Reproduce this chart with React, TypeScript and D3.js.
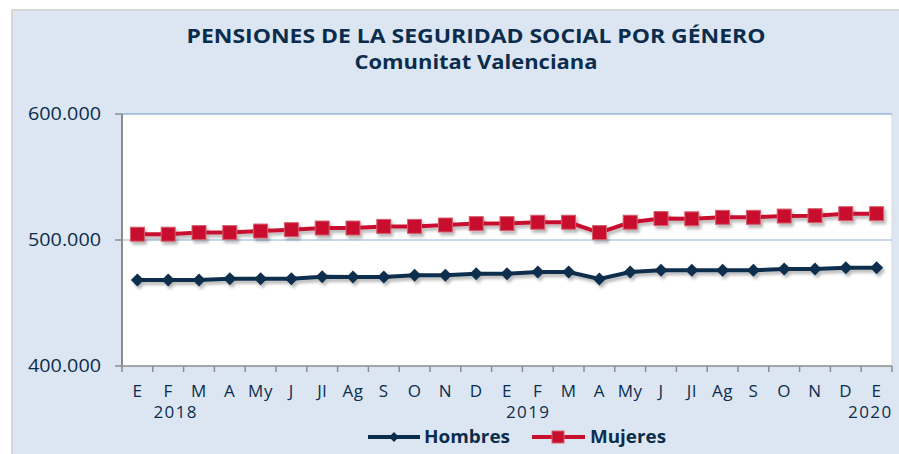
import React from "react";
import * as d3 from "d3";

const months = ["E","F","M","A","My","J","Jl","Ag","S","O","N","D","E","F","M","A","My","J","Jl","Ag","S","O","N","D","E"];
const hombres = [468300,468300,468300,469300,469300,469300,470900,470700,470700,472000,472000,473300,473300,474600,474600,469000,474600,476000,476000,476000,476000,477000,477000,478000,478000];
const mujeres = [504600,504600,505900,505900,507100,508200,509500,509500,510800,510800,511900,513000,513000,514100,514100,505900,514100,517000,516800,518000,518000,519000,519300,520900,520900];
const yTicks = [400000, 500000, 600000];
const yearLabels = [
  { label: "2018", index: 0, anchor: "start", dx: 16 },
  { label: "2019", index: 12, anchor: "start", dx: -1 },
  { label: "2020", index: 24, anchor: "end", dx: 16 },
];

const W = 899, H = 454;
const navy = "#0b2d4d";
const red = "#c8102e";
const font = "'Open Sans', sans-serif";

export default function App() {
  const left = 122, right = 892, top = 114, bottom = 366;
  const x = d3.scaleBand<number>().domain(d3.range(months.length)).range([left, right]);
  const cx = (i: number) => (x(i) as number) + x.bandwidth() / 2;
  const y = d3.scaleLinear().domain([400000, 600000]).range([bottom, top]);
  const line = d3.line<number>().x((_, i) => cx(i)).y(d => y(d));
  const fmt = (v: number) => d3.format(",")(v).replace(/,/g, ".");
  const diamond = (px: number, py: number, r = 6.5) => `M${px},${py - r}L${px + r},${py}L${px},${py + r}L${px - r},${py}Z`;

  return (
    <svg width={W} height={H} style={{ position: "absolute", left: 0, top: 0 }} fontFamily={font}>
      <defs>
        <filter id="sh" x="-5%" y="-50%" width="110%" height="200%">
          <feDropShadow dx="2" dy="3" stdDeviation="1.6" floodColor="#000" floodOpacity="0.28" />
        </filter>
      </defs>
      <rect x={0} y={0} width={W} height={H} fill="#fff" />
      <rect x={12} y={10} width={W} height={H} fill="#dce6f2" stroke="#d6d6d6" strokeWidth={2} />
      <text x={476} y={43} textAnchor="middle" fontSize={19} fontWeight="bold" fill={navy} textLength={579} lengthAdjust="spacingAndGlyphs">PENSIONES DE LA SEGURIDAD SOCIAL POR GÉNERO</text>
      <text x={476} y={69} textAnchor="middle" fontSize={19} fontWeight="bold" fill={navy} textLength={243} lengthAdjust="spacingAndGlyphs">Comunitat Valenciana</text>

      <rect x={left} y={top} width={right - left} height={bottom - top} fill="#fff" />
      <line x1={right} x2={right} y1={top} y2={bottom} stroke="#d9d9d9" strokeWidth={1} />
      {yTicks.filter(t => t > 400000).map(t => (
        <line key={t} x1={left} x2={right} y1={y(t)} y2={y(t)} stroke="#95b3d7" strokeWidth={t === 600000 ? 1.5 : 1} />
      ))}
      {yTicks.map(t => (
        <g key={"yt" + t}>
          <line x1={115} x2={left} y1={y(t)} y2={y(t)} stroke="#8c8c8c" strokeWidth={1.5} />
          <text x={101} y={y(t) + 6} textAnchor="end" fontSize={17.5} fill={navy} textLength={73} lengthAdjust="spacingAndGlyphs">{fmt(t)}</text>
        </g>
      ))}
      <line x1={left} x2={left} y1={top} y2={bottom + 1} stroke="#8c8c8c" strokeWidth={2} />
      <line x1={left} x2={right} y1={bottom} y2={bottom} stroke="#8c8c8c" strokeWidth={1.5} />
      {d3.range(months.length + 1).map(i => {
        const tx = i < months.length ? (x(i) as number) : right;
        return <line key={"xt" + i} x1={tx} x2={tx} y1={bottom} y2={bottom + 6} stroke="#8c8c8c" strokeWidth={1.5} />;
      })}
      {months.map((m, i) => (
        <text key={"m" + i} x={cx(i)} y={397} textAnchor="middle" fontSize={17} fill={navy} letterSpacing={0.6}>{m}</text>
      ))}
      {yearLabels.map(l => (
        <text key={l.label} x={cx(l.index) + l.dx} y={418} textAnchor={l.anchor as any} fontSize={17} fill={navy} letterSpacing={1.4}>{l.label}</text>
      ))}

      <g filter="url(#sh)">
        <path d={line(mujeres) as string} fill="none" stroke={red} strokeWidth={4} />
        {mujeres.map((v, i) => (
          <rect key={"mu" + i} x={cx(i) - 7} y={y(v) - 7} width={14} height={14} fill={red} stroke="#d4606e" strokeWidth={1} />
        ))}
      </g>
      <g filter="url(#sh)">
        <path d={line(hombres) as string} fill="none" stroke={navy} strokeWidth={4} />
        {hombres.map((v, i) => (
          <path key={"ho" + i} d={diamond(cx(i), y(v))} fill={navy} />
        ))}
      </g>

      <g>
        <line x1={368} x2={420} y1={437} y2={437} stroke={navy} strokeWidth={4} />
        <path d={diamond(394, 437, 5)} fill={navy} />
        <text x={424} y={443} fontSize={17} fontWeight="bold" fill={navy} textLength={86} lengthAdjust="spacingAndGlyphs">Hombres</text>
        <line x1={532} x2={585} y1={437} y2={437} stroke={red} strokeWidth={4} />
        <rect x={552} y={431} width={12} height={12} fill={red} stroke="#d4606e" strokeWidth={1} />
        <text x={590} y={443} fontSize={17} fontWeight="bold" fill={navy} textLength={76} lengthAdjust="spacingAndGlyphs">Mujeres</text>
      </g>
    </svg>
  );
}
